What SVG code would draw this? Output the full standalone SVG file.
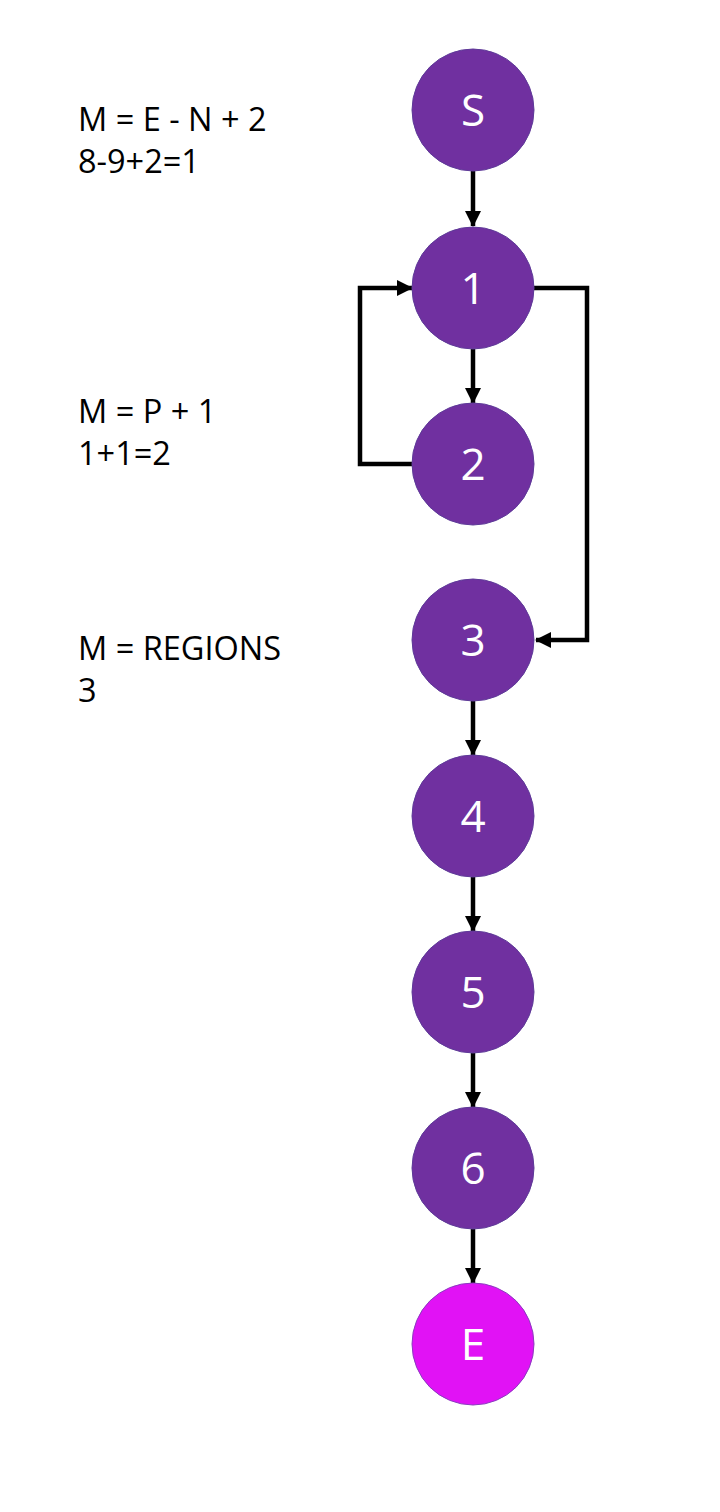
<svg xmlns="http://www.w3.org/2000/svg" width="720" height="1512" viewBox="0 0 720 1512">
<style>
.node{fill:#7030A0;stroke:#5E3A98;stroke-width:1}
.end{fill:#E112F5;stroke:#8B3CC0;stroke-width:1}
.lbl{font-family:"Open Sans","Liberation Sans",sans-serif;font-size:44px;fill:#fff;text-anchor:middle}
.note{font-family:"Open Sans","Liberation Sans",sans-serif;font-size:32.5px;fill:#000}
.edge{fill:none;stroke:#000;stroke-width:4.5}
</style>
<defs>
<marker id="arr" markerUnits="userSpaceOnUse" markerWidth="16" markerHeight="16" refX="15" refY="8" orient="auto">
<path d="M0,0 L16,8 L0,16 Z" fill="#000"/>
</marker>
</defs>
<rect width="720" height="1512" fill="#fff"/>
<g id="notes">
<text class="note" x="78" y="131">M = E - N + 2</text>
<text class="note" x="78" y="173">8-9+2=1</text>
<text class="note" x="78" y="423">M = P + 1</text>
<text class="note" x="78" y="465">1+1=2</text>
<text class="note" x="78" y="660">M = REGIONS</text>
<text class="note" x="78" y="702">3</text>
</g>
<g id="connectors">
<line class="edge" x1="473" y1="171" x2="473" y2="226" marker-end="url(#arr)"/>
<line class="edge" x1="473" y1="349" x2="473" y2="403" marker-end="url(#arr)"/>
<polyline class="edge" points="412,464 360,464 360,288 412,288" marker-end="url(#arr)"/>
<polyline class="edge" points="534,288 587,288 587,640 536,640" marker-end="url(#arr)"/>
<line class="edge" x1="473" y1="701" x2="473" y2="755" marker-end="url(#arr)"/>
<line class="edge" x1="473" y1="877" x2="473" y2="931" marker-end="url(#arr)"/>
<line class="edge" x1="473" y1="1053" x2="473" y2="1107" marker-end="url(#arr)"/>
<line class="edge" x1="473" y1="1229" x2="473" y2="1283" marker-end="url(#arr)"/>
</g>
<g id="node-S"><circle class="node" cx="473" cy="110" r="61"/><text class="lbl" x="473" y="126">S</text></g>
<g id="node-1"><circle class="node" cx="473" cy="288" r="61"/><text class="lbl" x="473" y="304">1</text></g>
<g id="node-2"><circle class="node" cx="473" cy="464" r="61"/><text class="lbl" x="473" y="480">2</text></g>
<g id="node-3"><circle class="node" cx="473" cy="640" r="61"/><text class="lbl" x="473" y="656">3</text></g>
<g id="node-4"><circle class="node" cx="473" cy="816" r="61"/><text class="lbl" x="473" y="832">4</text></g>
<g id="node-5"><circle class="node" cx="473" cy="992" r="61"/><text class="lbl" x="473" y="1008">5</text></g>
<g id="node-6"><circle class="node" cx="473" cy="1168" r="61"/><text class="lbl" x="473" y="1184">6</text></g>
<g id="node-E"><circle class="end" cx="473" cy="1344" r="61"/><text class="lbl" x="473" y="1360">E</text></g>
</svg>
